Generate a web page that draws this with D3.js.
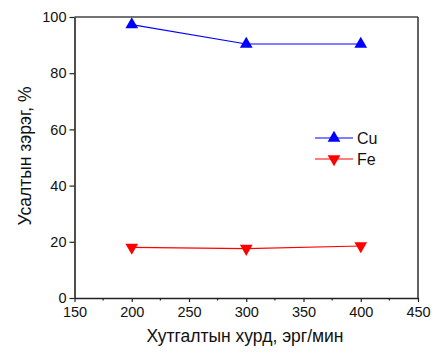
<!DOCTYPE html>
<html><head><meta charset="utf-8">
<script src="https://cdn.jsdelivr.net/npm/d3@7"></script>
<style>
html,body{margin:0;padding:0;background:#fff;}
svg{display:block;font-family:"Liberation Sans",Arial,sans-serif;}
</style></head>
<body>
<svg id="chart" width="443" height="354"></svg>
<script>
// Stirring speed (rpm) and leaching degree (%)
const speeds = [200, 300, 400];
const cuValues = [97.3, 90.4, 90.4];
const feValues = [18.0, 17.6, 18.5];
const xTicks = [150, 200, 250, 300, 350, 400, 450];
const yTicks = [0, 20, 40, 60, 80, 100];
const seriesNames = ["Cu", "Fe"];
const seriesColors = ["#0000ff", "#ff0000"];

const svg = d3.select("#chart");
const margin = {left: 74.5, right: 25, top: 17, bottom: 56};
const W = 443, H = 354;
const x = d3.scaleLinear().domain([150, 450]).range([margin.left, W - margin.right]);
const y = d3.scaleLinear().domain([0, 100]).range([H - margin.bottom, margin.top]);

const axisColor = "#222";

// frame top and right
svg.append("line").attr("x1", x(150)).attr("x2", x(450)).attr("y1", y(100)).attr("y2", y(100))
  .attr("stroke", "#444").attr("stroke-width", 1.4);
svg.append("line").attr("x1", x(450)).attr("x2", x(450)).attr("y1", y(100)).attr("y2", y(0))
  .attr("stroke", "#222").attr("stroke-width", 1.4);

// x axis
const gx = svg.append("g").attr("transform", `translate(0,${y(0)})`)
  .call(d3.axisBottom(x).tickValues(xTicks).tickSize(4).tickSizeOuter(0).tickPadding(5));
// y axis
const gy = svg.append("g").attr("transform", `translate(${x(150)},0)`)
  .call(d3.axisLeft(y).tickValues(yTicks).tickSize(5).tickSizeOuter(0).tickPadding(3));
// x minor ticks
const minor = d3.range(175, 450, 50);
svg.append("g").selectAll("line").data(minor).join("line")
  .attr("x1", d => x(d)).attr("x2", d => x(d))
  .attr("y1", y(0)).attr("y2", y(0) + 2.5)
  .attr("stroke", axisColor).attr("stroke-width", 1.2);

[gx, gy].forEach(g => {
  g.select(".domain").attr("stroke", axisColor).attr("stroke-width", 1.6);
  g.selectAll(".tick line").attr("stroke", axisColor).attr("stroke-width", 1.2);
  g.selectAll(".tick text").attr("fill", "#111").attr("font-size", 14.5)
    .attr("font-family", "'Liberation Sans',Arial,sans-serif");
});

// axis titles
svg.append("text").attr("x", 245).attr("y", 342).attr("text-anchor", "middle")
  .attr("font-size", 17.5).attr("fill", "#111").text("Хутгалтын хурд, эрг/мин");
svg.append("text").attr("transform", `translate(31,156) rotate(-90)`)
  .attr("text-anchor", "middle").attr("font-size", 17.5).attr("fill", "#111").text("Усалтын зэрэг, %");

const tri = d3.symbol().type(d3.symbolTriangle).size(70);
const series = [cuValues, feValues];
const line = d3.line().x((d, i) => x(speeds[i])).y(d => y(d));

series.forEach((vals, si) => {
  const g = svg.append("g");
  g.append("path").datum(vals).attr("d", line).attr("fill", "none")
    .attr("stroke", seriesColors[si]).attr("stroke-width", 1.2);
  g.selectAll("path.m").data(vals).join("path").attr("class", "m")
    .attr("d", tri)
    .attr("transform", (d, i) => `translate(${x(speeds[i])},${y(d)}) rotate(${si === 0 ? 0 : 180})`)
    .attr("fill", seriesColors[si]);
});

// legend
const legY = [138, 159];
seriesNames.forEach((name, i) => {
  const g = svg.append("g");
  g.append("line").attr("x1", 315).attr("x2", 353).attr("y1", legY[i]).attr("y2", legY[i])
    .attr("stroke", seriesColors[i]).attr("stroke-width", 1.2);
  g.append("path").attr("d", tri)
    .attr("transform", `translate(334,${legY[i]}) rotate(${i === 0 ? 0 : 180})`)
    .attr("fill", seriesColors[i]);
  g.append("text").attr("x", 357).attr("y", legY[i] + 6).attr("font-size", 16)
    .attr("fill", "#111").text(name);
});
</script>
</body></html>
